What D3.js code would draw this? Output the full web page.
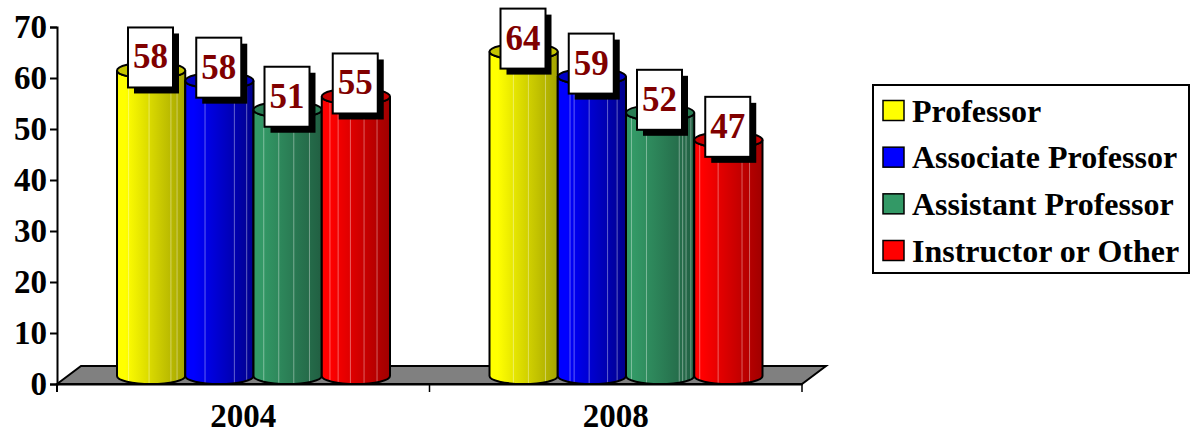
<!DOCTYPE html>
<html><head><meta charset="utf-8">
<script src="https://cdnjs.cloudflare.com/ajax/libs/d3/7.8.5/d3.min.js"></script>
<style>html,body{margin:0;padding:0;background:#fff}svg{display:block}text{font-family:"Liberation Serif",serif;font-weight:bold}</style>
</head><body><svg id="c" width="1190" height="433"></svg>
<script>
const years = ["2004", "2008"];
const seriesNames = ["Professor", "Associate Professor", "Assistant Professor", "Instructor or Other"];
// printed data labels
const labelProfessor = [58, 64];
const labelAssociate = [58, 59];
const labelAssistant = [51, 52];
const labelInstructor = [55, 47];
// drawn heights as read against the axis (the original's bars differ slightly from the labels)
const heightProfessor = [60.3, 64];
const heightAssociate = [58.3, 59.1];
const heightAssistant = [52.6, 52];
const heightInstructor = [55.2, 46.7];
const yTicks = [0, 10, 20, 30, 40, 50, 60, 70];
const seriesColors = ["#ffff00", "#0000ff", "#339966", "#ff0000"];
const seriesDark = ["#a3a300", "#00008c", "#215f42", "#a00000"];
const seriesTop = ["#c4c400", "#0000c4", "#2a7d54", "#c80000"];
const stripes = [
  [[.17,.47,.79,.88],[.35,.57,.82]],
  [[.29,.72,.9],[.18,.24,.46,.73,.87]],
  [[.15,.37,.59,.82],[.08,.3,.78,.83,.88,.95]],
  [[.12,.24,.42,.62,.81],[.08,.35,.7,.81]]
];
const labels = [labelProfessor, labelAssociate, labelAssistant, labelInstructor];
const heights = [heightProfessor, heightAssociate, heightAssistant, heightInstructor];

const svg = d3.select("#c");
const y = d3.scaleLinear().domain([0, 70]).range([384, 27]);
const x0 = d3.scaleBand().domain(years).range([57, 802]);
const x1 = d3.scaleBand().domain(seriesNames).range([60, 333]);

const defs = svg.append("defs");
seriesNames.forEach((s, i) => {
  const g = defs.append("linearGradient").attr("id", "g" + i);
  g.append("stop").attr("offset", "0").attr("stop-color", seriesColors[i]);
  g.append("stop").attr("offset", ".12").attr("stop-color", seriesColors[i]);
  g.append("stop").attr("offset", "1").attr("stop-color", seriesDark[i]);
});

// floor
const d = {dx: 24, dy: -18};
svg.append("path")
  .attr("d", d3.line()([[x0.range()[0], y(0)], [x0.range()[0] + d.dx, y(0) + d.dy], [x0.range()[1] + d.dx, y(0) + d.dy], [x0.range()[1], y(0)]]) + "Z")
  .attr("fill", "#808080").attr("stroke", "#000").attr("stroke-width", 2);

// axes
const axL = svg.append("g").attr("transform", "translate(57,0)")
  .call(d3.axisLeft(y).tickValues(yTicks).tickSize(7).tickPadding(3).tickFormat(d3.format("d")));
axL.selectAll("path,line").attr("stroke", "#000").attr("stroke-width", 2);
axL.selectAll("text").attr("font-size", 33).attr("fill", "#000").attr("dy", "0.33em");
svg.append("line").attr("x1", 57).attr("x2", 57).attr("y1", 384).attr("y2", 392).attr("stroke", "#000").attr("stroke-width", 2);
const axB = svg.append("g").attr("transform", "translate(0,384)")
  .call(d3.axisBottom(x0).tickSize(0).tickPadding(20));
axB.select("path").attr("stroke", "#000").attr("stroke-width", 2);
axB.selectAll("text").attr("font-size", 33).attr("fill", "#000").attr("dy", "0.71em");
[x0.range()[0] + x0.bandwidth(), x0.range()[1]].forEach(v =>
  svg.append("line").attr("x1", v).attr("x2", v).attr("y1", 384).attr("y2", 392).attr("stroke", "#000").attr("stroke-width", 1.5));

// cylinders
const ry = 8, rimUp = 6, baseRim = y(0) - 8;
const marks = svg.append("g");
years.forEach((yr, yi) => {
  seriesNames.forEach((s, i) => {
    const l = x0(yr) + x1(s), w = x1.bandwidth(), r = l + w, rx = w / 2;
    const t = y(heights[i][yi]) - rimUp;
    const body = `M${l},${t}L${l},${baseRim}A${rx},${ry} 0 0 0 ${r},${baseRim}L${r},${t}A${rx},${ry} 0 0 1 ${l},${t}Z`;
    const g = marks.append("g");
    const cid = `cp${yi}${i}`;
    defs.append("clipPath").attr("id", cid).append("path").attr("d", body);
    g.append("path").attr("d", body).attr("fill", `url(#g${i})`);
    g.append("g").attr("clip-path", `url(#${cid})`).selectAll("line").data(stripes[i][yi]).join("line")
      .attr("x1", f => l + f * w).attr("x2", f => l + f * w)
      .attr("y1", t).attr("y2", baseRim + ry)
      .attr("stroke", "#fff").attr("stroke-opacity", .38).attr("stroke-width", 1);
    g.append("path").attr("d", body).attr("fill", "none").attr("stroke", "#000").attr("stroke-width", 2);
    g.append("ellipse").attr("cx", l + rx).attr("cy", t).attr("rx", rx).attr("ry", ry)
      .attr("fill", seriesTop[i]).attr("stroke", "#000").attr("stroke-width", 2);
  });
});

// data labels
const boxW = 45, boxH = 60, boxRise = 43;
years.forEach((yr, yi) => {
  seriesNames.forEach((s, i) => {
    const bx = x0(yr) + x1(s) + 11, by = y(heights[i][yi]) - rimUp - boxRise;
    const g = svg.append("g");
    g.append("rect").attr("x", bx + 6).attr("y", by + 6).attr("width", boxW).attr("height", boxH).attr("fill", "#000");
    g.append("rect").attr("x", bx).attr("y", by).attr("width", boxW).attr("height", boxH)
      .attr("fill", "#fff").attr("stroke", "#000").attr("stroke-width", 2);
    g.append("text").attr("x", bx + boxW / 2).attr("y", by + 41).attr("text-anchor", "middle")
      .attr("font-size", 35).attr("fill", "#800000").text(labels[i][yi]);
  });
});

// legend
const lg = svg.append("g");
lg.append("rect").attr("x", 873).attr("y", 85).attr("width", 316).attr("height", 188)
  .attr("fill", "#fff").attr("stroke", "#000").attr("stroke-width", 2);
const rowY = d3.scalePoint().domain(seriesNames).range([110.5, 250.5]);
seriesNames.forEach((s, i) => {
  lg.append("rect").attr("x", 883).attr("y", rowY(s) - 10).attr("width", 21).attr("height", 20)
    .attr("fill", seriesColors[i]).attr("stroke", "#000").attr("stroke-width", 1.5);
  lg.append("text").attr("x", 912).attr("y", rowY(s) + 11).attr("font-size", 32).attr("fill", "#000").text(s);
});
</script></body></html>
